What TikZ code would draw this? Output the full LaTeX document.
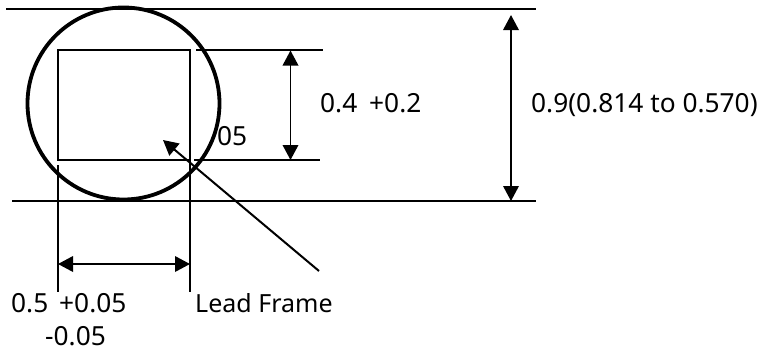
\documentclass[tikz,border=0pt]{standalone}
\usepackage{fontspec}
\setmainfont{Noto Sans}
\usetikzlibrary{arrows.meta}
\tikzset{
  thinline/.style={draw=black,line width=1.9pt},
  ring/.style={draw=black,line width=3.8pt},
  dimline/.style={draw=black,line width=1.9pt,{Triangle[length=15pt,width=15.5pt]}-{Triangle[length=15pt,width=15.5pt]}},
  leader/.style={draw=black,line width=2pt,-{Triangle[length=15pt,width=15.5pt]}},
  lbl/.style={inner sep=0pt,anchor=base west,font=\fontsize{26.3}{30}\selectfont},
  wordlbl/.style={inner sep=0pt,anchor=base west,font=\fontsize{25}{30}\selectfont}
}
\begin{document}
\begin{tikzpicture}[x=1pt,y=-1pt]
\useasboundingbox (0,0) rectangle (761,354);
% outline lines
\coordinate (topL) at (6,9); \coordinate (topR) at (536,9);
\coordinate (botL) at (12,201); \coordinate (botR) at (536,201);
\draw[thinline] (topL) -- (topR);
\draw[thinline] (botL) -- (botR);
% lead frame rectangle
\coordinate (rectA) at (58,50); \coordinate (rectB) at (190,160);
\draw[thinline] (rectA) rectangle (rectB);
% labels
\node[lbl] (t05) at (217,145.5) {05};
\node[lbl] (t04) at (320,112.5) {0.4};
\node[lbl] (t02) at (369,112.5) {+0.2};
\node[lbl] (t09) at (531,112.5) {0.9(0.814 to 0.570)};
\node[lbl] (t05a) at (11,312) {0.5};
\node[lbl] (t05b) at (59,312) {+0.05};
\node[lbl] (t05c) at (45,345) {-0.05};
\node[wordlbl] (tlead) at (195,312) {Lead Frame};
% circle
\node[ring,circle,minimum size=192pt,inner sep=0pt] (pkg) at (123.5,103.5) {};
% extension lines
\coordinate (e1a) at (196,50); \coordinate (e1b) at (323,50);
\coordinate (e2a) at (194,160); \coordinate (e2b) at (320,160);
\draw[thinline] (e1a) -- (e1b);
\draw[thinline] (e2a) -- (e2b);
\coordinate (e3a) at (58,165); \coordinate (e3b) at (58,292);
\coordinate (e4a) at (190,160); \coordinate (e4b) at (190,292);
\draw[thinline] (e3a) -- (e3b);
\draw[thinline] (e4a) -- (e4b);
% dimension arrows
\coordinate (d1a) at (290.5,50.5); \coordinate (d1b) at (290.5,160);
\draw[dimline] (d1a) -- (d1b);
\coordinate (d2a) at (511,15); \coordinate (d2b) at (511,201);
\draw[dimline] (d2a) -- (d2b);
\coordinate (d3a) at (58,264); \coordinate (d3b) at (190,264);
\draw[dimline] (d3a) -- (d3b);
% leader
\coordinate (lA) at (319,271); \coordinate (lB) at (163,140);
\draw[leader] (lA) -- (lB);
\end{tikzpicture}
\end{document}
